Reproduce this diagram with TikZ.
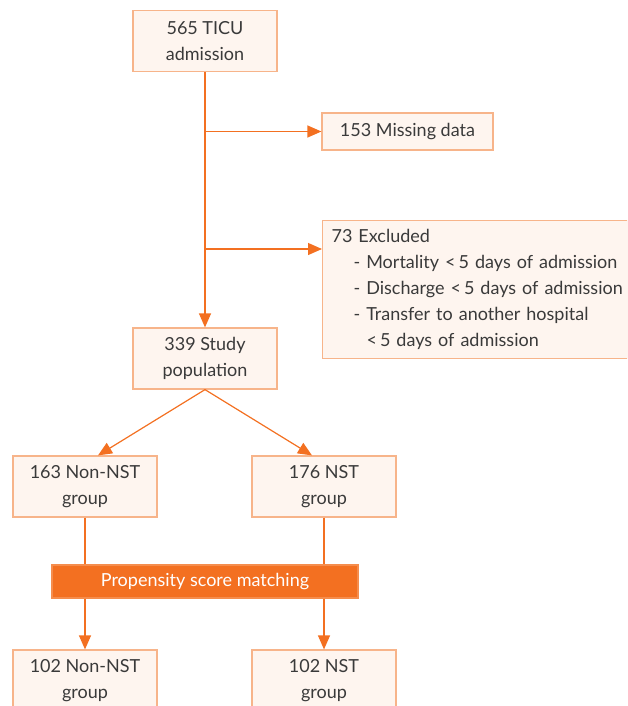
\documentclass[tikz,border=0pt]{standalone}
\usepackage{fontspec}
\setmainfont{Lato}
\usetikzlibrary{arrows.meta}
\definecolor{psorange}{HTML}{F37021}
\definecolor{psborder}{HTML}{F7B48A}
\definecolor{psfill}{HTML}{FEF5EF}
\definecolor{pstext}{HTML}{3A3A3A}

\begin{document}
\begin{tikzpicture}[x=1pt,y=-1pt,
    box/.style={draw=psborder, fill=psfill, line width=1.2pt, minimum width=144pt, minimum height=61pt,
                align=center, text=pstext, inner sep=0pt, font=\fontsize{18}{26}\selectfont},
    flow/.style={draw=psorange, line width=1.2pt},
    arr/.style={flow, -{Triangle[length=14pt,width=12pt]}}]

    % Canvas
    \clip (0,0) rectangle (627,706);

    % Boxes
    \node[box] (ticu) at (205,41) {565 TICU\\admission};
    \node[box, minimum width=171pt, minimum height=37pt] (missing) at (407.5,131.5) {153 Missing data};
    \node[box, anchor=north west, text width=287pt, minimum height=138pt, align=left, inner xsep=9pt] (excl) at (322,220)
        {73 Excluded\\
         \mbox{\hspace*{22pt}- Mortality <\,5 days of admission}\\
         \mbox{\hspace*{22pt}- Discharge <\,5 days of admission}\\
         \mbox{\hspace*{22pt}- Transfer to another hospital}\\
         \mbox{\hspace*{35pt}<\,5 days of admission}};
    \coordinate (exclin) at (322,249);
    \node[box] (study) at (205,358.5) {339 Study\\population};
    \node[box] (nonnst) at (85,486.5) {163 Non-NST\\group};
    \node[box] (nst) at (324,486.5) {176 NST\\group};
    \node[box, draw=psorange!80, fill=psorange, text=white, minimum width=306pt, minimum height=33pt] (psm) at (205,581.5)
        {Propensity score matching};
    \node[box] (mnonnst) at (85,680.5) {102 Non-NST\\group};
    \node[box] (mnst) at (324,680.5) {102 NST\\group};

    % Connectors
    \draw[arr] (ticu) -- (study);
    \draw[arr] (ticu.south |- missing.west) -- (missing.west);
    \draw[arr] (ticu.south |- exclin) -- (exclin);
    \draw[arr] (study.south) -- ([xshift=13pt]nonnst.north);
    \draw[arr] (study.south) -- ([xshift=-12pt]nst.north);
    \draw[flow] (nonnst) -- (nonnst |- psm.north);
    \draw[flow] (nst) -- (nst |- psm.north);
    \draw[arr] (nonnst |- psm.south) -- (mnonnst);
    \draw[arr] (nst |- psm.south) -- (mnst);

\end{tikzpicture}
\end{document}
